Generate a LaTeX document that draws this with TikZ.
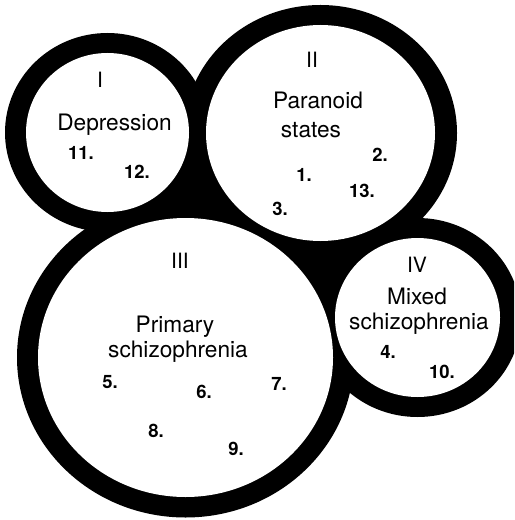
\documentclass[tikz,border=0pt]{standalone}
\usepackage{fontspec}
\setmainfont{TeX Gyre Heros}
\usetikzlibrary{positioning}
\definecolor{RingInk}{RGB}{0,0,0}
\definecolor{PaperWhite}{RGB}{255,255,255}

\begin{document}
\begin{tikzpicture}[x=0.02cm,y=-0.02cm,
    grouptxt/.style={font=\fontsize{12.9}{15}\selectfont,anchor=base,inner sep=0pt},
    romnum/.style={font=\fontsize{12}{14}\selectfont,anchor=base,inner sep=0pt},
    casenum/.style={font=\fontsize{10.5}{12}\selectfont\bfseries,anchor=base,inner sep=0pt}]
      \clip (0,0) rectangle (514,520);
      \coordinate (cI) at (107.5,132.5);
      \coordinate (cII) at (320.5,133);
      \coordinate (cIII) at (185.5,357.5);
      \coordinate (cIV) at (417.5,317.5);
      \fill[RingInk] (cI) -- (cII) -- (cIII) -- cycle;
      \fill[RingInk] (cII) -- (cIII) -- (cIV) -- cycle;
      \fill[RingInk] (cI) ellipse [x radius=102.5, y radius=99.5];
      \fill[RingInk] (cII) ellipse [x radius=136.5, y radius=128];
      \fill[RingInk] (cIII) ellipse [x radius=168.5, y radius=160];
      \fill[RingInk] (cIV) ellipse [x radius=103.5, y radius=99.5];
      \fill[PaperWhite] (cI) ellipse [x radius=81.5, y radius=79.5];
      \fill[PaperWhite] (cII) ellipse [x radius=114.5, y radius=108];
      \fill[PaperWhite] (cIII) ellipse [x radius=147.5, y radius=139.5];
      \fill[PaperWhite] (cIV) ellipse [x radius=82.5, y radius=79.5];
      \node[romnum] (romI) at (100,88) {I};
      \node[grouptxt] (depr) at (114.5,131) {Depression};
      \node[casenum] (case11) at (81,160) {11.};
      \node[casenum] (case12) at (137,178) {12.};
      \node[romnum] (romII) at (312,68) {II};
      \node[grouptxt] (para) at (318,109) {Paranoid};
      \node[grouptxt] (stat) at (311,138) {states};
      \node[casenum] (case2) at (380,162) {2.};
      \node[casenum] (case1) at (304,182) {1.};
      \node[casenum] (case13) at (362,197) {13.};
      \node[casenum] (case3) at (280,215) {3.};
      \node[romnum] (romIII) at (180,268) {III};
      \node[grouptxt] (prim) at (175,332) {Primary};
      \node[grouptxt] (schizA) at (178,357) {schizophrenia};
      \node[casenum] (case5) at (110,388) {5.};
      \node[casenum] (case6) at (204,398) {6.};
      \node[casenum] (case7) at (279,390) {7.};
      \node[casenum] (case8) at (156,437) {8.};
      \node[casenum] (case9) at (236,455) {9.};
      \node[romnum] (romIV) at (417,272) {IV};
      \node[grouptxt] (mixd) at (417,304) {Mixed};
      \node[grouptxt] (schizB) at (419,329) {schizophrenia};
      \node[casenum] (case4) at (388,358) {4.};
      \node[casenum] (case10) at (442,378) {10.};
    \end{tikzpicture}
\end{document}
